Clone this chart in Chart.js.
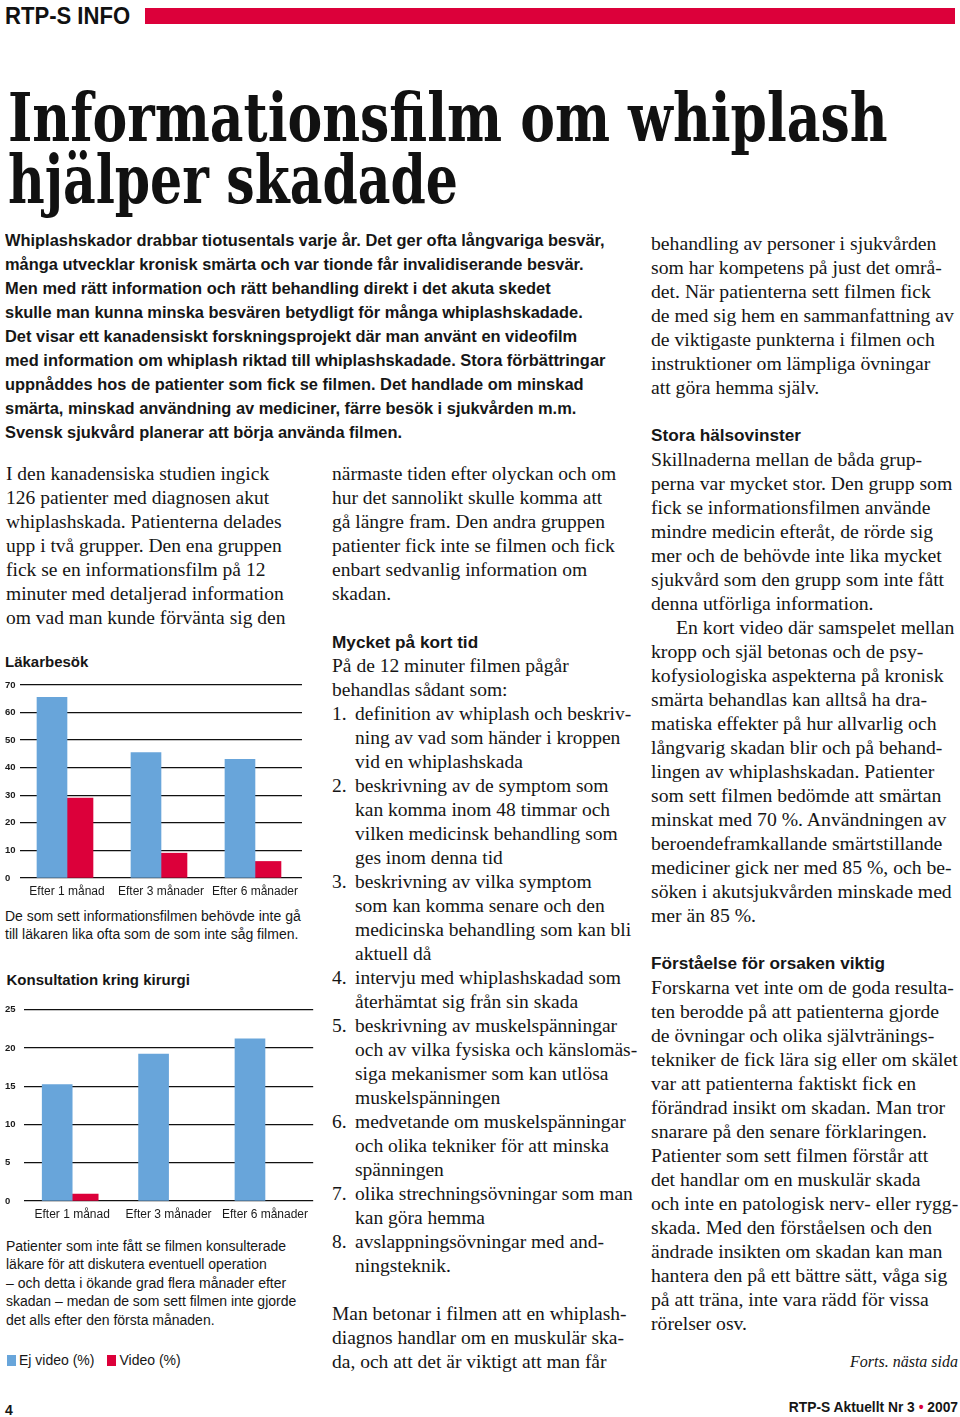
<!DOCTYPE html>
<html lang="sv">
<head>
<meta charset="utf-8">
<script src="https://cdn.jsdelivr.net/npm/chart.js@4.4.0/dist/chart.umd.min.js"></script>
<style>
html,body{margin:0;padding:0;background:#fff;}
body{width:960px;height:1417px;position:relative;overflow:hidden;color:#161616;}
.abs{position:absolute;white-space:nowrap;}
.sans{font-family:"Liberation Sans",Arial,sans-serif;}
.title{font-family:"DejaVu Serif",serif;font-weight:bold;font-stretch:condensed;font-size:68px;line-height:50px;height:50px;color:#111;transform-origin:0 0;}
.intro{font-family:"Liberation Sans",Arial,sans-serif;font-weight:bold;font-size:17px;line-height:24px;transform:scaleX(0.966);transform-origin:0 0;}
.intro div{height:24px;}
.col{font-family:"Liberation Serif","Times New Roman",serif;font-size:19.5px;line-height:24px;}
.col div{height:24px;position:relative;}
.col .h{font-family:"Liberation Sans",Arial,sans-serif;font-weight:bold;font-size:17.2px;}
.col .li{padding-left:23px;}
.col .n{position:absolute;left:0;top:0;font-style:normal;}
.col .ind{padding-left:25px;}
.cap{font-family:"Liberation Sans",Arial,sans-serif;font-size:14px;line-height:18.5px;}
.chead{font-family:"Liberation Sans",Arial,sans-serif;font-weight:bold;font-size:15px;line-height:15px;}
canvas{position:absolute;}
#legend{position:absolute;left:7px;top:1353px;display:flex;font-family:"Liberation Sans",Arial,sans-serif;font-size:14px;line-height:14px;white-space:nowrap;}
#legend .it{display:flex;align-items:flex-start;margin-right:13px;}
#legend .sw{width:9px;height:11px;margin-top:2px;margin-right:3px;}
</style>
</head>
<body>

<div class="abs sans" style="left:5px;top:4.5px;font-weight:bold;font-size:23px;line-height:23px;color:#111;transform:scaleX(0.96);transform-origin:0 0;">RTP-S INFO</div>
<div class="abs" style="left:145px;top:8px;width:810px;height:16px;background:#dc003a;"></div>

<div class="abs title" style="left:8px;top:91.5px;transform:scaleX(0.851);">Informationsfilm om whiplash</div>
<div class="abs title" style="left:8px;top:153.5px;transform:scaleX(0.825);">hjälper skadade</div>

<div class="abs intro" style="left:5px;top:228.6px;">
<div>Whiplashskador drabbar tiotusentals varje år. Det ger ofta långvariga besvär,</div>
<div>många utvecklar kronisk smärta och var tionde får invalidiserande besvär.</div>
<div>Men med rätt information och rätt behandling direkt i det akuta skedet</div>
<div>skulle man kunna minska besvären betydligt för många whiplashskadade.</div>
<div>Det visar ett kanadensiskt forskningsprojekt där man använt en videofilm</div>
<div>med information om whiplash riktad till whiplashskadade. Stora förbättringar</div>
<div>uppnåddes hos de patienter som fick se filmen. Det handlade om minskad</div>
<div>smärta, minskad användning av mediciner, färre besök i sjukvården m.m.</div>
<div>Svensk sjukvård planerar att börja använda filmen.</div>
</div>

<div class="abs col" style="left:6px;top:462.4px;">
<div>I den kanadensiska studien ingick</div>
<div>126 patienter med diagnosen akut</div>
<div>whiplashskada. Patienterna delades</div>
<div>upp i två grupper. Den ena gruppen</div>
<div>fick se en informationsfilm på 12</div>
<div>minuter med detaljerad information</div>
<div>om vad man kunde förvänta sig den</div>
</div>

<div class="abs col" style="left:332px;top:462px;">
<div>närmaste tiden efter olyckan och om</div>
<div>hur det sannolikt skulle komma att</div>
<div>gå längre fram. Den andra gruppen</div>
<div>patienter fick inte se filmen och fick</div>
<div>enbart sedvanlig information om</div>
<div>skadan.</div>
<div></div>
<div class="h">Mycket på kort tid</div>
<div>På de 12 minuter filmen pågår</div>
<div>behandlas sådant som:</div>
<div class="li"><i class="n">1.</i>definition av whiplash och beskriv-</div>
<div class="li">ning av vad som händer i kroppen</div>
<div class="li">vid en whiplashskada</div>
<div class="li"><i class="n">2.</i>beskrivning av de symptom som</div>
<div class="li">kan komma inom 48 timmar och</div>
<div class="li">vilken medicinsk behandling som</div>
<div class="li">ges inom denna tid</div>
<div class="li"><i class="n">3.</i>beskrivning av vilka symptom</div>
<div class="li">som kan komma senare och den</div>
<div class="li">medicinska behandling som kan bli</div>
<div class="li">aktuell då</div>
<div class="li"><i class="n">4.</i>intervju med whiplashskadad som</div>
<div class="li">återhämtat sig från sin skada</div>
<div class="li"><i class="n">5.</i>beskrivning av muskelspänningar</div>
<div class="li">och av vilka fysiska och känslomäs-</div>
<div class="li">siga mekanismer som kan utlösa</div>
<div class="li">muskelspänningen</div>
<div class="li"><i class="n">6.</i>medvetande om muskelspänningar</div>
<div class="li">och olika tekniker för att minska</div>
<div class="li">spänningen</div>
<div class="li"><i class="n">7.</i>olika strechningsövningar som man</div>
<div class="li">kan göra hemma</div>
<div class="li"><i class="n">8.</i>avslappningsövningar med and-</div>
<div class="li">ningsteknik.</div>
<div></div>
<div>Man betonar i filmen att en whiplash-</div>
<div>diagnos handlar om en muskulär ska-</div>
<div>da, och att det är viktigt att man får</div>
</div>

<div class="abs col" style="left:651px;top:231.4px;font-size:19.7px;">
<div>behandling av personer i sjukvården</div>
<div>som har kompetens på just det områ-</div>
<div>det. När patienterna sett filmen fick</div>
<div>de med sig hem en sammanfattning av</div>
<div>de viktigaste punkterna i filmen och</div>
<div>instruktioner om lämpliga övningar</div>
<div>att göra hemma själv.</div>
<div></div>
<div class="h">Stora hälsovinster</div>
<div>Skillnaderna mellan de båda grup-</div>
<div>perna var mycket stor. Den grupp som</div>
<div>fick se informationsfilmen använde</div>
<div>mindre medicin efteråt, de rörde sig</div>
<div>mer och de behövde inte lika mycket</div>
<div>sjukvård som den grupp som inte fått</div>
<div>denna utförliga information.</div>
<div class="ind">En kort video där samspelet mellan</div>
<div>kropp och själ betonas och de psy-</div>
<div>kofysiologiska aspekterna på kronisk</div>
<div>smärta behandlas kan alltså ha dra-</div>
<div>matiska effekter på hur allvarlig och</div>
<div>långvarig skadan blir och på behand-</div>
<div>lingen av whiplashskadan. Patienter</div>
<div>som sett filmen bedömde att smärtan</div>
<div>minskat med 70 %. Användningen av</div>
<div>beroendeframkallande smärtstillande</div>
<div>mediciner gick ner med 85 %, och be-</div>
<div>söken i akutsjukvården minskade med</div>
<div>mer än 85 %.</div>
<div></div>
<div class="h">Förståelse för orsaken viktig</div>
<div>Forskarna vet inte om de goda resulta-</div>
<div>ten berodde på att patienterna gjorde</div>
<div>de övningar och olika självtränings-</div>
<div>tekniker de fick lära sig eller om skälet</div>
<div>var att patienterna faktiskt fick en</div>
<div>förändrad insikt om skadan. Man tror</div>
<div>snarare på den senare förklaringen.</div>
<div>Patienter som sett filmen förstår att</div>
<div>det handlar om en muskulär skada</div>
<div>och inte en patologisk nerv- eller rygg-</div>
<div>skada. Med den förståelsen och den</div>
<div>ändrade insikten om skadan kan man</div>
<div>hantera den på ett bättre sätt, våga sig</div>
<div>på att träna, inte vara rädd för vissa</div>
<div>rörelser osv.</div>
</div>

<div class="abs chead" style="left:5px;top:654px;">Läkarbesök</div>
<canvas id="c1" width="299" height="225" style="left:5px;top:675px;width:299px;height:225px;"></canvas>
<div class="abs cap" style="left:5px;top:906.6px;">De som sett informationsfilmen behövde inte gå<br>till läkaren lika ofta som de som inte såg filmen.</div>

<div class="abs chead" style="left:6.5px;top:972.3px;">Konsultation kring kirurgi</div>
<canvas id="c2" width="309" height="223" style="left:5px;top:1000px;width:309px;height:223px;"></canvas>
<div class="abs cap" style="left:6px;top:1236.6px;">Patienter som inte fått se filmen konsulterade<br>läkare för att diskutera eventuell operation<br>– och detta i ökande grad flera månader efter<br>skadan – medan de som sett filmen inte gjorde<br>det alls efter den första månaden.</div>

<div id="legend"></div>

<div class="abs" style="right:2px;top:1353.6px;font-family:'Liberation Serif',serif;font-style:italic;font-size:16px;line-height:16px;">Forts. nästa sida</div>
<div class="abs sans" style="left:5px;top:1403px;font-weight:bold;font-size:14px;line-height:14px;">4</div>
<div class="abs sans" style="right:2px;top:1401px;font-weight:bold;font-size:13.8px;line-height:13.8px;">RTP-S Aktuellt Nr 3 <span style="color:#dc003a">•</span> 2007</div>

<script>
// ---- Data ----
const categories = ['Efter 1 månad', 'Efter 3 månader', 'Efter 6 månader'];
const seriesNames = ['Ej video (%)', 'Video (%)'];
const lakarbesokEjVideo = [65.5, 45.5, 43];
const lakarbesokVideo = [29, 9, 6];
const kirurgiEjVideo = [15.2, 19.2, 21.2];
const kirurgiVideo = [0.9, 0, 0];
const lakarbesokTicks = [0, 10, 20, 30, 40, 50, 60, 70];
const kirurgiTicks = [0, 5, 10, 15, 20, 25];

// ---- Styles ----
const BLUE = '#68a5da';
const RED = '#dc003a';
const seriesColors = [BLUE, RED];

function colorFor(i) {
  return (ctx) => (ctx.raw === 0 ? 'rgba(0,0,0,0)' : seriesColors[i]);
}

function barChart(canvasId, ejVideo, video, ticks, yWidth, padTop) {
  return new Chart(document.getElementById(canvasId), {
    type: 'bar',
    data: {
      labels: categories,
      datasets: [
        { label: seriesNames[0], data: ejVideo, backgroundColor: colorFor(0), borderWidth: 0, barThickness: 30 },
        { label: seriesNames[1], data: video, backgroundColor: colorFor(1), borderWidth: 0, barThickness: 26 }
      ]
    },
    options: {
      responsive: false,
      maintainAspectRatio: false,
      animation: false,
      devicePixelRatio: 1,
      layout: { padding: { top: padTop, right: 0, bottom: 0, left: 0 } },
      plugins: { legend: { display: false }, tooltip: { enabled: false } },
      scales: {
        x: {
          offset: true,
          grid: { display: false, drawTicks: false },
          border: { display: false },
          ticks: { color: '#1a1a1a', padding: 6, maxRotation: 0, autoSkip: false,
                   font: { family: 'Liberation Sans', size: 12 } },
          afterFit: (s) => { s.height = 22; }
        },
        y: {
          min: 0,
          max: ticks[ticks.length - 1],
          grid: { color: '#111', lineWidth: 1.3, drawTicks: false },
          border: { display: false },
          ticks: { color: '#1a1a1a', padding: 0, crossAlign: 'far',
                   font: { family: 'Liberation Sans', size: 9.5, weight: 'bold' } },
          afterBuildTicks: (s) => { s.ticks = ticks.map(v => ({ value: v })); },
          afterFit: (s) => { s.width = yWidth; }
        }
      }
    }
  });
}

barChart('c1', lakarbesokEjVideo, lakarbesokVideo, lakarbesokTicks, 15, 10);
barChart('c2', kirurgiEjVideo, kirurgiVideo, kirurgiTicks, 19, 9.7);

// shared legend built from the series names and colours
const legendBox = document.getElementById('legend');
seriesNames.forEach((name, i) => {
  const it = document.createElement('div'); it.className = 'it';
  const sw = document.createElement('div'); sw.className = 'sw'; sw.style.background = seriesColors[i];
  const tx = document.createElement('span'); tx.textContent = name;
  it.appendChild(sw); it.appendChild(tx); legendBox.appendChild(it);
});
</script>
</body>
</html>
